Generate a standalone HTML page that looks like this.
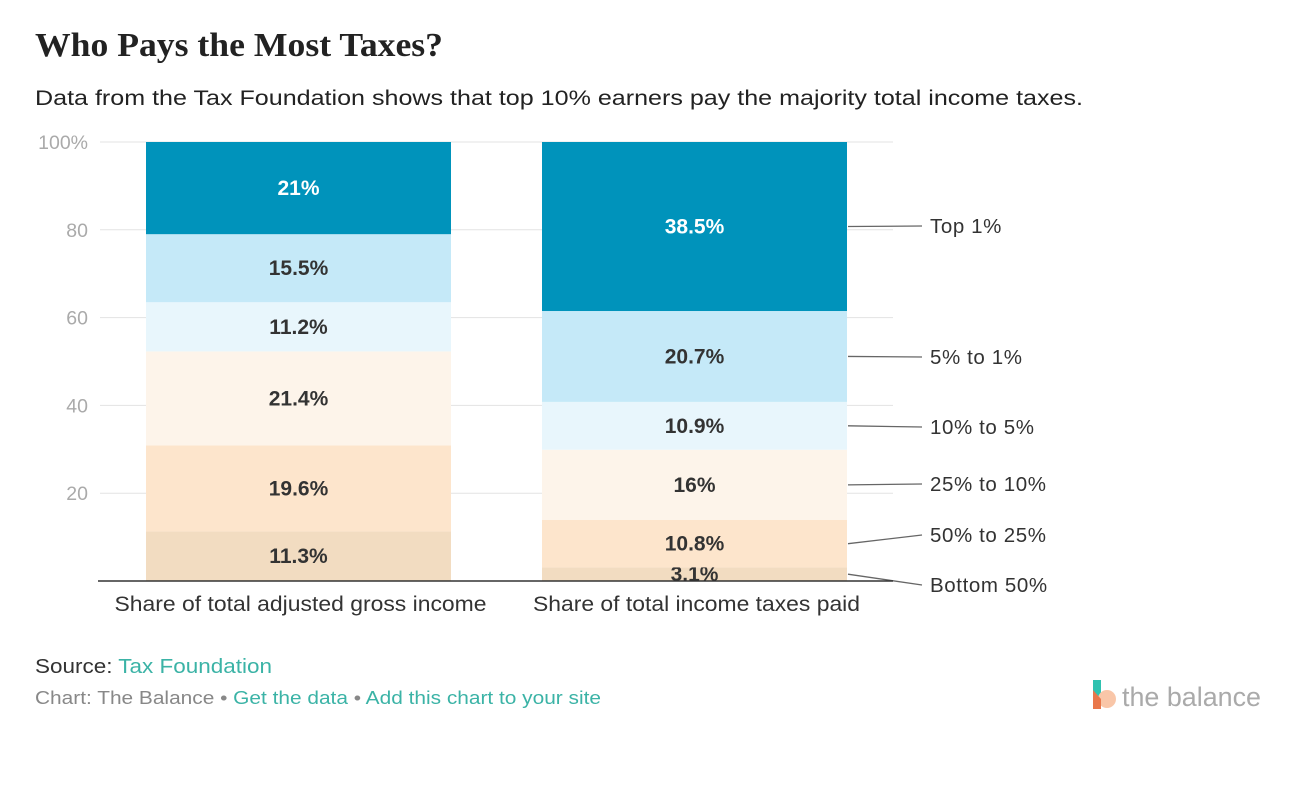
<!DOCTYPE html>
<html><head><meta charset="utf-8"><style>
body{margin:0;background:#fff;width:1292px;height:783px;overflow:hidden;font-family:"Liberation Sans",sans-serif}
</style></head><body>
<svg width="1292" height="783">
<text x="35" y="56" font-family="Liberation Serif,serif" font-weight="bold" font-size="34" fill="#222" textLength="408" lengthAdjust="spacingAndGlyphs">Who Pays the Most Taxes?</text>
<text x="35" y="105" font-size="21" fill="#222" textLength="1048" lengthAdjust="spacingAndGlyphs">Data from the Tax Foundation shows that top 10% earners pay the majority total income taxes.</text>
<g id="grid"></g><g id="bars"></g><g id="labels"></g>
<text x="35" y="673" font-size="20" fill="#333" textLength="237" lengthAdjust="spacingAndGlyphs">Source: <tspan fill="#3bb3a6">Tax Foundation</tspan></text>
<text x="35" y="704" font-size="18" fill="#888" textLength="566" lengthAdjust="spacingAndGlyphs">Chart: The Balance • <tspan fill="#3bb3a6">Get the data</tspan> • <tspan fill="#3bb3a6">Add this chart to your site</tspan></text>
<g>
<rect x="1093" y="680" width="8" height="29" fill="#2fc2b0"/>
<circle cx="1107" cy="699" r="9" fill="#f9c6a8"/>
<path d="M1093 690 L1101 699 L1101 709 L1093 709Z" fill="#e9774b"/>
<text x="1122" y="706" font-size="27" fill="#aaa" textLength="139" lengthAdjust="spacingAndGlyphs">the balance</text>
</g>
</svg>
<script>
const categories=["Share of total adjusted gross income","Share of total income taxes paid"];
const groups=["Bottom 50%","50% to 25%","25% to 10%","10% to 5%","5% to 1%","Top 1%"];
const agiValues=[11.3,19.6,21.4,11.2,15.5,21];
const taxValues=[3.1,10.8,16,10.9,20.7,38.5];
const valueLabels=[["11.3%","19.6%","21.4%","11.2%","15.5%","21%"],["3.1%","10.8%","16%","10.9%","20.7%","38.5%"]];
const ticks=[20,40,60,80,100];
const colors=["#f2dcc1","#fde5cc","#fdf4ea","#e8f6fc","#c5e9f8","#0093bb"];
const legendY=[585,535,484,427,357,226];
const NS="http://www.w3.org/2000/svg";
const y=v=>581-v*4.39;
const barX=[146,542],barW=305;
function mk(t,a,p){const e=document.createElementNS(NS,t);for(const k in a)e.setAttribute(k,a[k]);p.appendChild(e);return e;}
const grid=document.getElementById('grid'),bars=document.getElementById('bars'),labels=document.getElementById('labels');
ticks.forEach(t=>{
 const l=mk('line',{x1:100,x2:893,y1:y(t),y2:y(t),stroke:'#e3e3e3','stroke-width':1},grid);
 
 
 const tx=mk('text',{x:88,y:y(t)+7,'text-anchor':'end','font-size':19.5,fill:'#aaa'},grid);
 tx.textContent=t===100?'100%':String(t);
 
 
});
[agiValues,taxValues].forEach((vals,ci)=>{
 let acc=0;
 vals.forEach((v,i)=>{
  const r=mk('rect',{x:barX[ci],y:y(acc+v),width:barW,height:v*4.39,fill:colors[i]},bars);
  
  
  const mid=y(acc+v/2);
  const tx=mk('text',{x:barX[ci]+barW/2,y:mid+7,'text-anchor':'middle','font-size':21,'font-weight':'bold',fill:i===5?'#fff':'#333'},bars);
  tx.textContent=valueLabels[ci][i];
  
  
  if(ci===1){
   const ln=mk('line',{x1:848,y1:mid,x2:922,y2:legendY[i],stroke:'#666','stroke-width':1.3},labels);
   
   
   const lt=mk('text',{x:930,y:legendY[i]+7,'font-size':20.5,fill:'#333','letter-spacing':'0.6'},labels);
   lt.textContent=groups[i];
   
   
  }
  acc+=v;
 });
 const c=mk('text',{x:barX[ci]+barW/2+2,y:611,'text-anchor':'middle','font-size':21,fill:'#333','textLength':ci?327:372,'lengthAdjust':'spacingAndGlyphs'},labels);
 c.textContent=categories[ci];
 
 
});
const b=mk('line',{x1:98,x2:893,y1:581,y2:581,stroke:'#333','stroke-width':1.5},labels);


</script>
</body></html>
